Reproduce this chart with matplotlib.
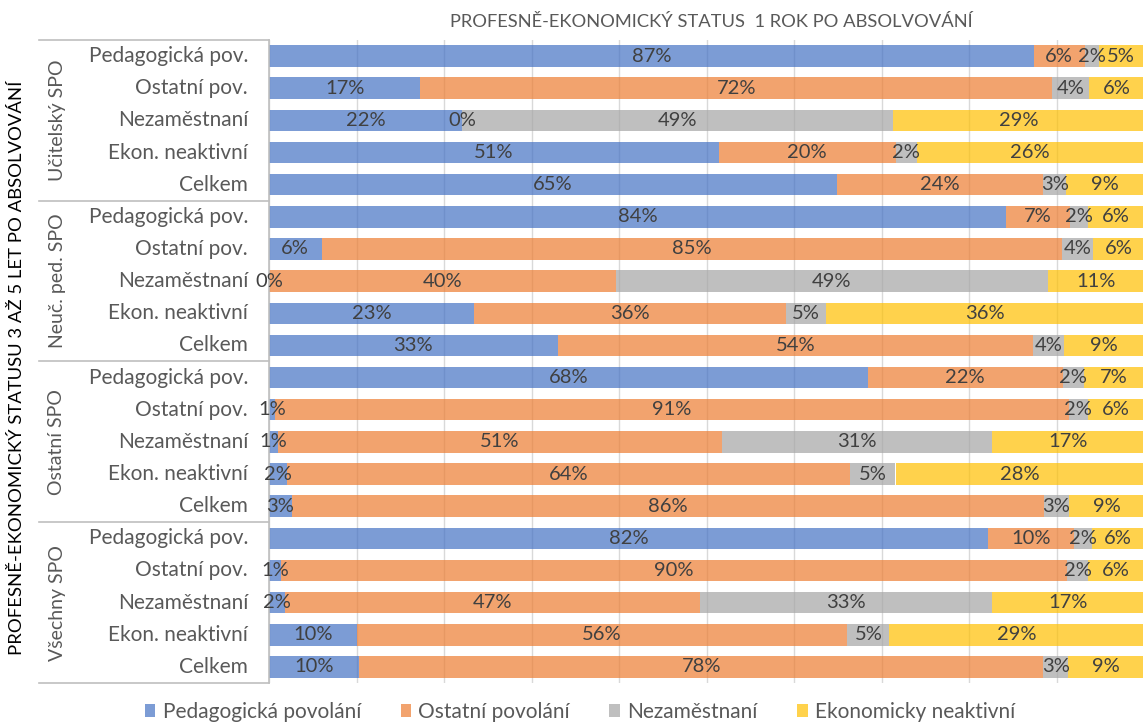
import matplotlib
matplotlib.use("Agg")
import matplotlib.pyplot as plt
from matplotlib.patches import Patch
from matplotlib.transforms import blended_transform_factory

# Status one year after graduation (shares in %), rows grouped by status 3-5 years after
groups = ["Učitelský SPO", "Neuč. ped. SPO", "Ostatní SPO", "Všechny SPO"]
row_labels = ["Pedagogická pov.", "Ostatní pov.", "Nezaměstnaní", "Ekon. neaktivní", "Celkem"]
series_names = ["Pedagogická povolání", "Ostatní povolání", "Nezaměstnaní", "Ekonomicky neaktivní"]

pedagogicka = [87.4, 17.3, 22.1, 51.4, 64.9,
               84.2, 6.0, 0.0, 23.4, 33.0,
               68.4, 0.7, 1.0, 2.1, 2.6,
               82.2, 1.4, 1.8, 10.0, 10.3]
ostatni = [5.8, 72.2, 0.0, 20.2, 23.6,
           7.3, 84.6, 39.6, 35.7, 54.3,
           22.3, 90.7, 50.8, 64.3, 86.0,
           9.8, 89.8, 47.4, 56.1, 78.2]
nezamestnani = [1.6, 4.2, 49.2, 2.4, 2.6,
                2.1, 3.6, 49.4, 4.6, 3.6,
                2.4, 2.2, 30.8, 5.2, 2.8,
                2.0, 2.4, 33.4, 4.8, 2.8]
neaktivni = [5.2, 6.3, 28.7, 26.0, 8.9,
             6.4, 5.8, 11.0, 36.3, 9.1,
             6.9, 6.4, 17.4, 28.4, 8.6,
             6.0, 6.4, 17.4, 29.1, 8.7]

title = "PROFESNĚ-EKONOMICKÝ STATUS  1 ROK PO ABSOLVOVÁNÍ"
ytitle = "PROFESNĚ-EKONOMICKÝ STATUSU 3 AŽ 5 LET PO ABSOLVOVÁNÍ"

colors = ["#4472C4", "#ED7D31", "#A5A5A5", "#FFC000"]
ALPHA = 0.7
FONT = "Lato"
plt.rcParams["font.family"] = [FONT, "DejaVu Sans"]

W, H = 1143, 726
fig = plt.figure(figsize=(W / 100, H / 100), dpi=100)
ax = fig.add_axes([269 / W, 1 - 683 / H, 875 / W, 643 / H])

series = [pedagogicka, ostatni, nezamestnani, neaktivni]
n = len(pedagogicka)
ypos = list(range(n))
left = [0.0] * n
for vals, col in zip(series, colors):
    ax.barh(ypos, vals, left=left, height=0.67, color=col, alpha=ALPHA,
            edgecolor="none", zorder=2)
    for i, v in enumerate(vals):
        ax.text(left[i] + v / 2, i, f"{v:.0f}%", ha="center", va="center",
                fontsize=14.5, color="#404040", zorder=3)
    left = [l + v for l, v in zip(left, vals)]

ax.set_xlim(0, 100)
ax.set_ylim(n - 0.5, -0.5)
ax.set_xticks(range(0, 101, 10))
ax.xaxis.grid(True, color="#D9D9D9", linewidth=1.0, zorder=0)
ax.set_axisbelow(True)
ax.tick_params(axis="both", length=0, labelbottom=False, labelleft=False)
for side in ("top", "right", "bottom"):
    ax.spines[side].set_visible(False)
ax.spines["left"].set_color("#BFBFBF")
ax.spines["left"].set_linewidth(1.2)

# Multi-level category axis: row labels, group labels and separators
tr = blended_transform_factory(fig.transFigure, ax.transData)
for i in range(n):
    ax.text(248 / W, i, row_labels[i % len(row_labels)], transform=tr,
            ha="right", va="center", fontsize=15, color="#595959")
for g, name in enumerate(groups):
    c = g * len(row_labels) + (len(row_labels) - 1) / 2
    ax.text(57 / W, c, name, transform=tr, rotation=90, ha="center",
            va="center", fontsize=14, color="#595959")
for b in range(len(groups) + 1):
    yb = b * len(row_labels) - 0.5
    ax.plot([39 / W, 269 / W], [yb, yb], transform=tr, color="#BFBFBF",
            linewidth=1.2, clip_on=False, zorder=1)

fig.text(711 / W, 1 - 22 / H, title, ha="center", va="center",
         fontsize=13.2, color="#595959")
fig.text(17 / W, 1 - 368 / H, ytitle, rotation=90, ha="center", va="center",
         fontsize=13.3, color="black")

handles = [Patch(facecolor=c, alpha=ALPHA, edgecolor="none") for c in colors]
fig.legend(handles, series_names, loc="center", bbox_to_anchor=(580 / W, 1 - 712 / H),
           ncol=4, frameon=False, fontsize=15, labelcolor="#595959",
           handlelength=0.5, handleheight=0.6, handletextpad=0.35,
           columnspacing=1.9, borderpad=0.1)

fig.savefig("out.png", dpi=100)
